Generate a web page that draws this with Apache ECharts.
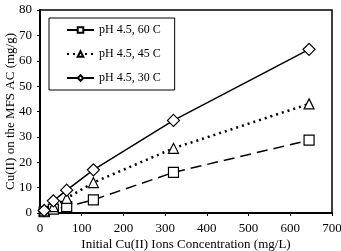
<!DOCTYPE html>
<html>
<head>
<meta charset="utf-8">
<script src="https://cdn.jsdelivr.net/npm/echarts@6/dist/echarts.min.js"></script>
<style>
  html, body { margin: 0; padding: 0; background: #fff; }
  #chart { width: 341px; height: 251px; }
</style>
</head>
<body>
<div id="chart"></div>
<script>
// initial Cu(II) concentration (mg/L)
var concentration = [10, 32, 64, 128, 320, 645];
var ph45at60 = [0.5, 1.5, 2.5, 5.2, 16, 28.7];
var ph45at45 = [0.8, 2.5, 5.8, 12, 25.5, 43];
var ph45at30 = [1, 4.8, 9, 17, 36.5, 64.5];
var seriesNames = ['pH 4.5, 60 C', 'pH 4.5, 45 C', 'pH 4.5, 30 C'];

var pairs = function(ys) {
    return concentration.map((x, i) => [x, ys[i]]);
};

var font = 'Liberation Serif';

var makeSeries = function(name, ys, symbol, size, lineType, width) {
    return {
        name: name,
        type: 'line',
        data: pairs(ys),
        symbol: symbol,
        symbolSize: size,
        showAllSymbol: true,
        itemStyle: {color: '#fff', borderColor: '#000', borderWidth: 1.2},
        lineStyle: {color: '#000', width: width, type: lineType},
        emphasis: {disabled: true},
        z: 3
    };
};

var option = {
    animation: false,
    grid: {
        left: 40, right: 9, top: 10, bottom: 38,
        outerBoundsMode: 'none',
        containLabel: false,
        show: true, borderColor: '#000', borderWidth: 1.5
    },
    legend: {
        orient: 'vertical',
        left: 49,
        top: 18,
        padding: [6, 14, 6, 17],
        itemGap: 12,
        itemWidth: 27,
        itemHeight: 7,
        borderColor: '#000',
        borderWidth: 1,
        backgroundColor: '#fff',
        textStyle: {fontFamily: font, fontSize: 12, color: '#000'},
        data: seriesNames
    },
    xAxis: {
        type: 'value',
        min: 0,
        max: 700,
        interval: 100,
        axisLine: {lineStyle: {color: '#000', width: 2}},
        axisTick: {lineStyle: {color: '#000'}, length: 3},
        splitLine: {show: false},
        axisLabel: {fontFamily: font, fontSize: 13, color: '#000', margin: 9},
        name: 'Initial Cu(II) Ions Concentration (mg/L)',
        nameLocation: 'middle',
        nameGap: 25,
        nameMoveOverlap: false,
        nameTextStyle: {fontFamily: font, fontSize: 13, color: '#000'}
    },
    yAxis: {
        type: 'value',
        min: 0,
        max: 80,
        interval: 10,
        axisLine: {lineStyle: {color: '#000', width: 2}},
        axisTick: {lineStyle: {color: '#000'}, length: 3},
        splitLine: {show: false},
        axisLabel: {fontFamily: font, fontSize: 13, color: '#000', margin: 8},
        name: 'Cu(II) on the MFS AC (mg/g)',
        nameLocation: 'middle',
        nameGap: 23,
        nameMoveOverlap: false,
        nameTextStyle: {fontFamily: font, fontSize: 13, color: '#000'}
    },
    series: [
        makeSeries(seriesNames[0], ph45at60, 'rect', 10, [11, 6], 1.5),
        makeSeries(seriesNames[1], ph45at45, 'triangle', 10, [2, 4], 2.5),
        makeSeries(seriesNames[2], ph45at30, 'diamond', 12, 'solid', 1.5)
    ]
};

var chart = echarts.init(document.getElementById('chart'));
chart.setOption(option);
</script>
</body>
</html>
